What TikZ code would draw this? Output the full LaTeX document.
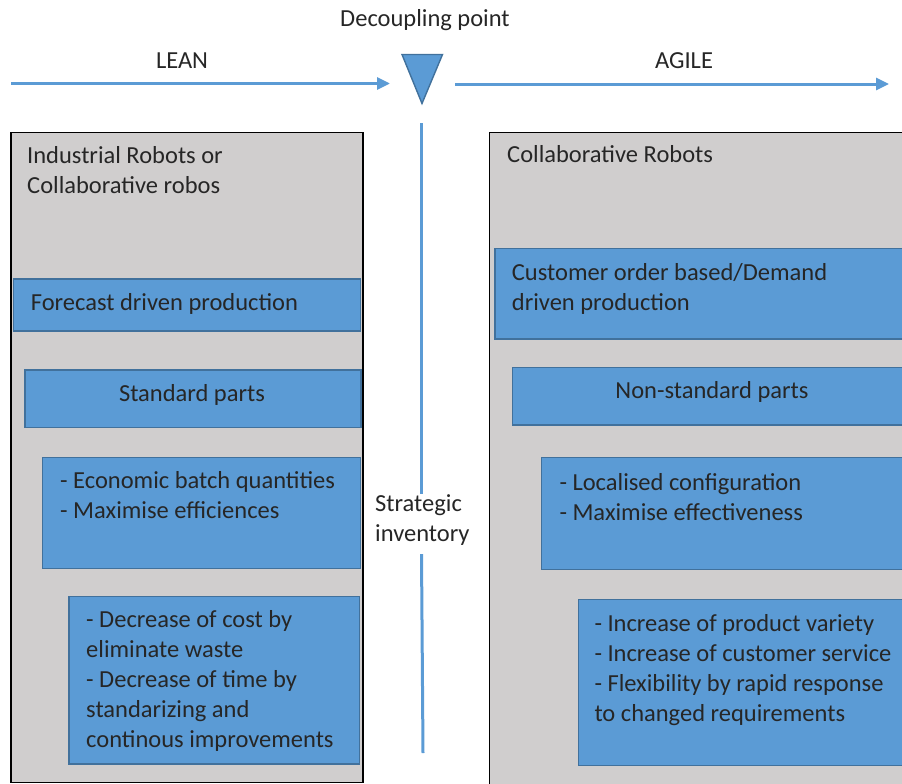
\documentclass[tikz,border=0pt]{standalone}
\usepackage{fontspec}
\setmainfont{Carlito}
\usepackage{xcolor}
\usetikzlibrary{arrows.meta}
\definecolor{boxblue}{HTML}{5B9BD5}
\definecolor{edgeblue}{HTML}{41719C}
\definecolor{panelgray}{HTML}{D0CECE}
\tikzset{
 panel/.style={draw=black, line width=1.6pt, fill=panelgray, anchor=north west, inner sep=0pt},
 bluebox/.style={draw=edgeblue, line width=1.2pt, fill=boxblue, anchor=north west, inner sep=0pt},
 txt/.style={font=\fontsize{24.5}{30}\selectfont, align=left, inner sep=0pt, text=black!85},
 flow/.style={draw=boxblue, line width=3pt, -{Triangle[length=13pt,width=12pt]}}
}

\begin{document}
\begin{tikzpicture}[x=1pt,y=-1pt]
 \useasboundingbox (0,0) rectangle (902,784);
 \clip (0,0) rectangle (902,784);
 % panels
 \node[panel, minimum width=352pt, minimum height=650pt] (lean) at (10,131.5) {};
 \node[panel, minimum width=440pt, minimum height=680pt] (agile) at (488.5,131.5) {};
 \node[txt, anchor=north west] (leantitle) at (27,146) {Industrial Robots or\\Collaborative robos};
 \node[txt, anchor=base west] (agiletitle) at (507,162.7) {Collaborative Robots};
 % lean side
 \node[bluebox, minimum width=347.5pt, minimum height=52pt] (forecast) at (12.5,278.3) {};
 \node[bluebox, minimum width=336pt, minimum height=57.5pt] (stdparts) at (24.3,369.3) {};
 \node[bluebox, minimum width=318.3pt, minimum height=111pt] (econ) at (41.7,456.7) {};
 \node[bluebox, minimum width=290.7pt, minimum height=167.5pt] (decrease) at (68.3,595.8) {};
 \node[txt, anchor=base west] at (30.7,310) {Forecast driven production};
 \node[txt, anchor=base] at (192,401.7) {Standard parts};
 \node[txt, anchor=north west] at (60,471.5) {- Economic batch quantities\\- Maximise efficiences};
 \node[txt, anchor=north west] at (86,610.5) {- Decrease of cost by\\eliminate waste\\- Decrease of time by\\standarizing and\\continous improvements};
 % agile side
 \node[bluebox, minimum width=430pt, minimum height=90.5pt] (customer) at (494.3,247.8) {};
 \node[bluebox, minimum width=410pt, minimum height=57.5pt] (nonstd) at (511.7,366.8) {};
 \node[bluebox, minimum width=380pt, minimum height=112.3pt] (local) at (540.7,456.7) {};
 \node[bluebox, minimum width=340pt, minimum height=166pt] (increase) at (577.7,599) {};
 \node[txt, anchor=north west] at (511.7,263) {Customer order based/Demand\\driven production};
 \node[txt, anchor=base] at (712,398.3) {Non-standard parts};
 \node[txt, anchor=north west] at (559.3,473) {- Localised configuration\\- Maximise effectiveness};
 \node[txt, anchor=north west] at (594.3,614.5) {- Increase of product variety\\- Increase of customer service\\- Flexibility by rapid response\\to changed requirements};
 % decoupling point
 \draw[fill=boxblue, draw=edgeblue, line width=1.4pt] (402,54.5) -- (442.5,54.5) -- (422,103.5) -- cycle;
 \node[txt, anchor=base] (dp) at (425,27) {Decoupling point};
 \node[txt, anchor=base] (leanlbl) at (182,68) {LEAN};
 \node[txt, anchor=base] (agilelbl) at (684,68) {AGILE};
 \coordinate (leanfrom) at (11,83.5);
 \coordinate (leanto) at (390,83.5);
 \coordinate (agilefrom) at (455,84);
 \coordinate (agileto) at (889,84);
 \draw[flow] (leanfrom) -- (leanto);
 \draw[flow] (agilefrom) -- (agileto);
 % strategic inventory
 \node[txt, anchor=north west] (stock) at (375,494) {Strategic\\inventory};
 \coordinate (stocktop) at (421.5,123);
 \coordinate (stockbot) at (423,753);
 \draw[boxblue, line width=3pt] (stocktop) -- (stock.north -| stocktop) ++(0,-5);
 \draw[boxblue, line width=3pt] (stocktop |- stock.south) ++(0,9) -- (stockbot);
\end{tikzpicture}
\end{document}
